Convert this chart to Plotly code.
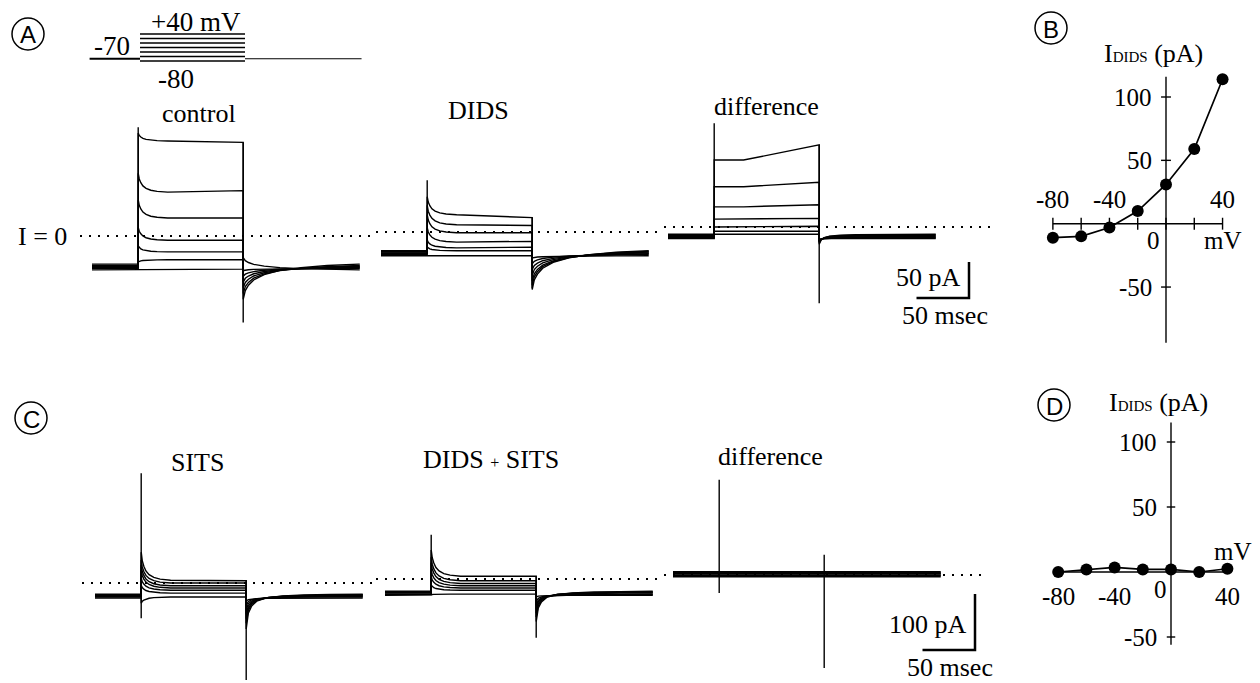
import plotly.graph_objects as go

W, H = 1260, 683
SERIF = "Liberation Serif, Times New Roman, serif"
SANS = "Liberation Sans, Arial, sans-serif"

# ------------------------------------------------------------------ data
STEP_MV = [-80, -60, -40, -20, 0, 20, 40]       # test potentials (mV)
HOLD_MV = -70
T_ON, T_OFF, T_END = 44, 144, 255               # ms
PROTO_T0 = -4
# relaxation of onset transients / tail currents (ms after edge, fraction left)
ON_T = [0, 1, 2.5, 4.5, 7.5, 12, 18, 28]
ON_F = [1, 0.7, 0.5, 0.33, 0.2, 0.1, 0.04, 0]
TAIL_T = [0, 2, 5, 10, 20, 35, 55, 80, 110]
TAIL_F = [1, 0.75, 0.6, 0.45, 0.3, 0.18, 0.1, 0.04, 0]
FAST_TAIL_F = [1, 0.55, 0.35, 0.2, 0.1, 0.05, 0.02, 0.01, 0]

# Panel A, control (pA), one value per test potential
CTRL_HOLD = [-47, -45, -44, -43, -42, -41, -39]
CTRL_ON = [-47, -36, -14, 12, 50, 87, 143]
CTRL_SS_START = [-46, -33, -22, -6, 25, 61, 132]
CTRL_SS_END = [-46, -33, -22, -6, 25, 63, 130]
CTRL_TAIL = [-30, -48, -56, -64, -72, -80, -88]
CTRL_SPIKE_ON = [-45, 151]
CTRL_SPIKE_OFF = [-120, 130]

# Panel A, DIDS
DIDS_HOLD = [-33, -31, -30, -29, -28, -27, -26]
DIDS_ON = [-33, -21, -11, 6, 24, 37, 49]
DIDS_SS_START = [-33, -26, -22, -14, -1, 10, 24]
DIDS_SS_END = [-33, -26, -21, -13, -1, 9, 20]
DIDS_TAIL = [-36, -44, -52, -60, -68, -74, -80]
DIDS_SPIKE_ON = [-29, 72]
DIDS_SPIKE_OFF = [-78, 20]

# Panel A, difference
DIFFA_HOLD = [-16, -15, -14, -13, -12, -11, -10]
DIFFA_ON = [-10, -6, 0, 11, 28, 56, 93]
DIFFA_SS_START = [-10, -6, 0, 11, 28, 56, 93]
DIFFA_SS_END = [-10, -6, 1, 12, 31, 62, 114]
DIFFA_TAIL = [-17, -18, -19, -20, -21, -22, -24]
DIFFA_SPIKE_ON = [-13, 144]
DIFFA_SPIKE_OFF = [-106, 114]

# Panel C, SITS
SITS_HOLD = [-27, -25, -24, -23, -22, -21, -20]
SITS_ON = [-36, -4, 9, 23, 32, 41, 55]
SITS_SS_START = [-25, -18, -13, -9, -5, 0, 5]
SITS_SS_END = [-25, -18, -13, -9, -5, 0, 4]
SITS_TAIL = [-32, -40, -48, -56, -64, -72, -82]
SITS_SPIKE_ON = [-63, 196]
SITS_SPIKE_OFF = [-173, 5]

# Panel C, DIDS + SITS
DSITS_HOLD = [-29, -28, -27, -25, -24, -23, -22]
DSITS_ON = [-28, -11, 4, 16, 29, 39, 52]
DSITS_SS_START = [-27, -20, -16, -12, -8, -3, 5]
DSITS_SS_END = [-27, -20, -16, -12, -8, -3, 5]
DSITS_TAIL = [-32, -40, -47, -54, -61, -68, -76]
DSITS_SPIKE_ON = [-25, 79]
DSITS_SPIKE_OFF = [-105, 5]

# Panel C, difference
DIFFC_HOLD = [-3, -1, 0, 2, 3, 4, 6]
DIFFC_SPIKE_ON = [-32, 170]
DIFFC_SPIKE_OFF = [-166, 36]

# I-V relations (B, D)
IV_MV = [-80, -60, -40, -20, 0, 20, 40]
IV_B = [-11, -10, -3, 10, 31, 59, 114]
IV_D = [0, 2, 3.5, 2, 2, 0, 2.5]
IV_XTICKS = [-80, -60, -40, -20, 0, 20, 40]
IV_XLABELS = [-80, -40, 40]
IV_YTICKS = [100, 50, -50]
B_YLIM = [-94, 116]
D_YLIM = [-56, 115]

SCALE_A = (50, 50)     # (ms, pA)
SCALE_C = (50, 100)

# ------------------------------------------------------------------ layout helpers
fig = go.Figure()
layout = dict(width=W, height=H, margin=dict(l=0, r=0, t=0, b=0),
              paper_bgcolor="white", plot_bgcolor="rgba(0,0,0,0)",
              showlegend=False, annotations=[], shapes=[])
AX = {}


def add_axes(name, idx, box, xs, sx, yz, sy):
    x0, x1, yt, yb = box
    sfx = "" if idx == 1 else str(idx)
    layout["xaxis" + sfx] = dict(domain=[x0 / W, x1 / W],
                                 range=[(x0 - xs) / sx, (x1 - xs) / sx],
                                 visible=False, fixedrange=True,
                                 anchor="y" + sfx)
    layout["yaxis" + sfx] = dict(domain=[1 - yb / H, 1 - yt / H],
                                 range=[(yz - yb) / sy, (yz - yt) / sy],
                                 visible=False, fixedrange=True,
                                 anchor="x" + sfx)
    AX[name] = ("x" + sfx, "y" + sfx, xs, sx, yz, sy)


def line(name, x, y, width=1.4, dash=None, color="black"):
    xa, ya = AX[name][0], AX[name][1]
    fig.add_trace(go.Scatter(x=x, y=y, mode="lines", xaxis=xa, yaxis=ya,
                             line=dict(color=color, width=width, dash=dash),
                             hoverinfo="skip"))


def px_to_data(name, px, py):
    _, _, xs, sx, yz, sy = AX[name]
    return (px - xs) / sx, (yz - py) / sy


def text(s, cx, cy, size=26, family=SERIF, xanchor="center"):
    layout["annotations"].append(dict(
        text=s, x=cx / W, y=1 - cy / H, xref="paper", yref="paper",
        showarrow=False, xanchor=xanchor, yanchor="middle",
        font=dict(family=family, size=size, color="black")))


def data_text(name, s, x, y, xshift=0, yshift=0, size=25, xanchor="center"):
    xa, ya = AX[name][0], AX[name][1]
    layout["annotations"].append(dict(
        text=s, x=x, y=y, xref=xa, yref=ya, showarrow=False,
        xanchor=xanchor, yanchor="middle", xshift=xshift, yshift=yshift,
        font=dict(family=SERIF, size=size, color="black")))


def circled(letter, cx, cy, r=16):
    layout["shapes"].append(dict(type="circle", xref="paper", yref="paper",
                                 x0=(cx - r) / W, x1=(cx + r) / W,
                                 y0=1 - (cy + r) / H, y1=1 - (cy - r) / H,
                                 line=dict(color="black", width=1.5)))
    text(letter, cx, cy + 1, size=24, family=SANS)


SX = 1.05   # px per ms
add_axes("proto", 1, (75, 375, 5, 75), 93.8, SX, 43, 0.225)
add_axes("ctrl", 2, (75, 376, 115, 340), 92, SX, 236, 0.72)
add_axes("dids", 3, (376, 664, 115, 340), 381, SX, 232, 0.72)
add_axes("diffA", 4, (664, 995, 115, 340), 668, SX, 227, 0.72)
add_axes("sits", 5, (75, 376, 455, 683), 95, SX, 583, 0.56)
add_axes("dsits", 6, (376, 664, 455, 683), 385, SX, 579, 0.56)
add_axes("diffC", 7, (664, 995, 455, 683), 673, SX, 575, 0.56)
add_axes("B", 8, (1035, 1250, 60, 360), 1166, 1.414, 223.7, 1.267)
add_axes("D", 9, (1035, 1250, 405, 670), 1171, 1.41, 572, 1.3)

# ------------------------------------------------------------------ voltage protocol
line("proto", [PROTO_T0, T_ON], [HOLD_MV, HOLD_MV], width=1.8)
line("proto", [T_OFF, T_END], [HOLD_MV, HOLD_MV], width=1.1)
for v in STEP_MV:
    line("proto", [T_ON, T_OFF], [v, v], width=1.6)
text("+40 mV", 196, 22, size=27)
text("-70", 112, 46, size=27)
text("-80", 176, 79, size=27)


# ------------------------------------------------------------------ current traces
def trace_xy(hold, on, ss0, ss1, tail, tail_f):
    t = [0, T_ON] + [T_ON + d for d in ON_T] + [T_OFF] + [T_OFF + d for d in TAIL_T] + [T_END]
    y = ([hold, hold] + [ss0 + (on - ss0) * f for f in ON_F] + [ss1]
         + [hold + (tail - hold) * f for f in tail_f] + [hold])
    return t, y


def family(name, hold, on, ss0, ss1, tail, spk_on, spk_off, zero_px, tail_f=TAIL_F):
    # dotted zero-current line
    xa0, _ = px_to_data(name, zero_px[0], 0)
    xa1, _ = px_to_data(name, zero_px[1], 0)
    line(name, [xa0, xa1], [0, 0], width=2.2, dash="2px,7px")
    for i in range(len(hold)):
        t, y = trace_xy(hold[i], on[i], ss0[i], ss1[i], tail[i], tail_f)
        line(name, t, y, width=1.4)
    line(name, [T_ON, T_ON], spk_on, width=1.4)
    line(name, [T_OFF, T_OFF], spk_off, width=1.4)


family("ctrl", CTRL_HOLD, CTRL_ON, CTRL_SS_START, CTRL_SS_END, CTRL_TAIL,
       CTRL_SPIKE_ON, CTRL_SPIKE_OFF, (80, 376))
family("dids", DIDS_HOLD, DIDS_ON, DIDS_SS_START, DIDS_SS_END, DIDS_TAIL,
       DIDS_SPIKE_ON, DIDS_SPIKE_OFF, (376, 664))
family("diffA", DIFFA_HOLD, DIFFA_ON, DIFFA_SS_START, DIFFA_SS_END, DIFFA_TAIL,
       DIFFA_SPIKE_ON, DIFFA_SPIKE_OFF, (664, 990), FAST_TAIL_F)
family("sits", SITS_HOLD, SITS_ON, SITS_SS_START, SITS_SS_END, SITS_TAIL,
       SITS_SPIKE_ON, SITS_SPIKE_OFF, (82, 376), FAST_TAIL_F)
family("dsits", DSITS_HOLD, DSITS_ON, DSITS_SS_START, DSITS_SS_END, DSITS_TAIL,
       DSITS_SPIKE_ON, DSITS_SPIKE_OFF, (376, 664), FAST_TAIL_F)
family("diffC", DIFFC_HOLD, DIFFC_HOLD, DIFFC_HOLD, DIFFC_HOLD, DIFFC_HOLD,
       DIFFC_SPIKE_ON, DIFFC_SPIKE_OFF, (664, 988))

# scale bars
tA, iA = px_to_data("diffA", 969, 298)
line("diffA", [tA - SCALE_A[0], tA, tA], [iA, iA, iA + SCALE_A[1]], width=2.5)
tC, iC = px_to_data("diffC", 975, 650)
line("diffC", [tC - SCALE_C[0], tC, tC], [iC, iC, iC + SCALE_C[1]], width=2.5)

text("control", 199, 113)
text("DIDS", 478, 111)
text("difference", 767, 107)
text("I = 0", 42, 236)
text("50 pA", 928, 277)
text("50 msec", 945, 315)
text("SITS", 197, 462)
text("DIDS <span style='font-size:16px'>+</span> SITS", 491, 459)
text("difference", 770, 456)
text("100 pA", 928, 624)
text("50 msec", 950, 667)


# ------------------------------------------------------------------ I-V plots
def iv_panel(name, vals, ylim, xticks, ytick_len_mv, xtick_len_pa):
    line(name, [IV_XTICKS[0], IV_XTICKS[-1]], [0, 0], width=1.4)
    line(name, [0, 0], ylim, width=1.4)
    tx, ty = [], []
    if xticks:
        for v in IV_XTICKS:
            tx += [v, v, None]
            ty += [-xtick_len_pa, xtick_len_pa, None]
    for v in IV_YTICKS:
        tx += [-ytick_len_mv, ytick_len_mv, None]
        ty += [v, v, None]
    line(name, tx, ty, width=1.4)
    xa, ya = AX[name][0], AX[name][1]
    fig.add_trace(go.Scatter(x=IV_MV, y=vals, mode="lines+markers",
                             xaxis=xa, yaxis=ya,
                             line=dict(color="black", width=1.7),
                             marker=dict(color="black", size=12),
                             hoverinfo="skip"))


iv_panel("B", IV_B, B_YLIM, True, 3.5, 4.7)
iv_panel("D", IV_D, D_YLIM, False, 3.0, 0)

for v in IV_YTICKS:
    data_text("B", str(v), 0, v, xshift=-12, xanchor="right")
    data_text("D", str(v), 0, v, xshift=-12, xanchor="right")
for v in IV_XLABELS:
    data_text("B", str(v), v, 0, yshift=24)
    data_text("D", str(v), v, 0, yshift=-24)
data_text("B", "0", 0, 0, xshift=-13, yshift=-17)
data_text("B", "mV", 40, 0, yshift=-17)
data_text("D", "0", 0, 0, xshift=-11, yshift=-17)
data_text("D", "mV", 40, 0, xshift=6, yshift=21)

title_iv = "I<span style='font-size:15px'>DIDS</span> (pA)"
text(title_iv, 1153, 54, size=26)
text(title_iv, 1158, 402, size=26)

circled("A", 28, 34)
circled("B", 1051, 28)
circled("C", 31, 418)
circled("D", 1054, 405)

fig.update_layout(**layout)
fig.write_html("out.html")
